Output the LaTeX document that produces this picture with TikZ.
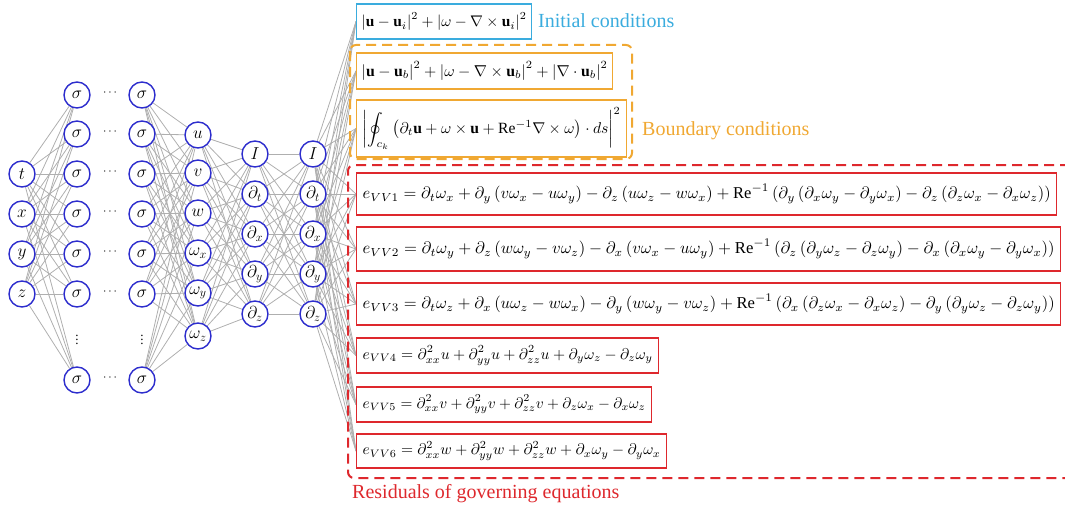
\documentclass[tikz,border=0pt]{standalone}
\usepackage{fontspec}
\setmainfont{Liberation Serif}
\usepackage{graphicx}
\usetikzlibrary{backgrounds}
\definecolor{nblue}{RGB}{45,45,205}
\definecolor{lgray}{RGB}{175,175,175}
\definecolor{ecyan}{RGB}{58,172,222}
\definecolor{eorange}{RGB}{240,168,50}
\definecolor{ered}{RGB}{222,40,45}
\newcommand{\eqfit}[2]{\resizebox{#1}{!}{$\displaystyle #2$}}
\tikzset{
  neuron/.style={circle, draw=nblue, fill=white, line width=1.4pt, minimum size=26pt, inner sep=0pt, font=\fontsize{17}{17}\selectfont},
  dotsn/.style={inner sep=0pt, font=\fontsize{13}{13}\selectfont},
  conn/.style={draw=lgray, line width=0.8pt},
  eqbox/.style={draw, fill=white, line width=1.4pt, inner sep=0pt, anchor=west},
  grpbox/.style={line width=2pt, dash pattern=on 10pt off 6pt, rounded corners=6pt},
  lab/.style={anchor=west, inner sep=0pt, font=\fontsize{20}{24}\selectfont}
}
\begin{document}
\begin{tikzpicture}[x=1pt,y=-1pt]
\useasboundingbox (0,0) rectangle (1065,511);

% input layer
\foreach \lab [count=\i] in {t,x,y,z}
  \node[neuron] (in\i) at (22,{134+40*\i}) {$\lab$};
% hidden layers
\foreach \yy [count=\i] in {95,134,174,214,254,294,380} {
  \node[neuron] (a\i) at (77,\yy) {$\sigma$};
  \node[neuron] (b\i) at (142,\yy) {$\sigma$};
  \node[dotsn] (d\i) at (110,\yy-2) {$\cdots$};
}
\node[dotsn] (va) at (77,337) {$\vdots$};
\node[dotsn] (vb) at (142,337) {$\vdots$};
% output layer
\foreach \lab/\yy [count=\i] in {u/135, v/173, w/213, \omega_x/253, \omega_y/293, \omega_z/336}
  \node[neuron] (o\i) at (198,\yy) {$\lab$};
% derivative layers
\foreach \lab/\yy [count=\i] in {I/154, \partial_t/194, \partial_x/234, \partial_y/274, \partial_z/314} {
  \node[neuron] (p\i) at (255,\yy) {$\lab$};
  \node[neuron] (q\i) at (313,\yy) {$\lab$};
}

% equation boxes
\node[eqbox, draw=ecyan, minimum width=175pt, minimum height=35pt] (ic) at (356,21.5)
  {\eqfit{165pt}{\left|\mathbf{u}-\mathbf{u}_i\right|^2+\left|\omega-\nabla\times\mathbf{u}_i\right|^2}};
\node[eqbox, draw=eorange, minimum width=256pt, minimum height=36pt] (bc1) at (356,71)
  {\eqfit{246pt}{\left|\mathbf{u}-\mathbf{u}_b\right|^2+\left|\omega-\nabla\times\mathbf{u}_b\right|^2+\left|\nabla\cdot\mathbf{u}_b\right|^2}};
\node[eqbox, draw=eorange, minimum width=270pt, minimum height=57pt] (bc2) at (356,128.5)
  {\eqfit{258pt}{\left|\oint_{c_k}\left(\partial_t\mathbf{u}+\omega\times\mathbf{u}+\mathrm{Re}^{-1}\nabla\times\omega\right)\cdot ds\right|^2}};
\node[eqbox, draw=ered, minimum width=700pt, minimum height=42pt] (r1) at (356,194)
  {\eqfit{688pt}{e_{VV1}=\partial_t\omega_x+\partial_y\left(v\omega_x-u\omega_y\right)-\partial_z\left(u\omega_z-w\omega_x\right)+\mathrm{Re}^{-1}\left(\partial_y\left(\partial_x\omega_y-\partial_y\omega_x\right)-\partial_z\left(\partial_z\omega_x-\partial_x\omega_z\right)\right)}};
\node[eqbox, draw=ered, minimum width=704pt, minimum height=44pt] (r2) at (356,249)
  {\eqfit{692pt}{e_{VV2}=\partial_t\omega_y+\partial_z\left(w\omega_y-v\omega_z\right)-\partial_x\left(v\omega_x-u\omega_y\right)+\mathrm{Re}^{-1}\left(\partial_z\left(\partial_y\omega_z-\partial_z\omega_y\right)-\partial_x\left(\partial_x\omega_y-\partial_y\omega_x\right)\right)}};
\node[eqbox, draw=ered, minimum width=704pt, minimum height=42pt] (r3) at (356,304)
  {\eqfit{692pt}{e_{VV3}=\partial_t\omega_z+\partial_x\left(u\omega_z-w\omega_x\right)-\partial_y\left(w\omega_y-v\omega_z\right)+\mathrm{Re}^{-1}\left(\partial_x\left(\partial_z\omega_x-\partial_x\omega_z\right)-\partial_y\left(\partial_y\omega_z-\partial_z\omega_y\right)\right)}};
\node[eqbox, draw=ered, minimum width=302pt, minimum height=35pt] (r4) at (356,355.5)
  {\eqfit{290pt}{e_{VV4}=\partial^2_{xx}u+\partial^2_{yy}u+\partial^2_{zz}u+\partial_y\omega_z-\partial_z\omega_y}};
\node[eqbox, draw=ered, minimum width=295pt, minimum height=35pt] (r5) at (356,404.5)
  {\eqfit{283pt}{e_{VV5}=\partial^2_{xx}v+\partial^2_{yy}v+\partial^2_{zz}v+\partial_z\omega_x-\partial_x\omega_z}};
\node[eqbox, draw=ered, minimum width=310pt, minimum height=34pt] (r6) at (356,451)
  {\eqfit{298pt}{e_{VV6}=\partial^2_{xx}w+\partial^2_{yy}w+\partial^2_{zz}w+\partial_x\omega_y-\partial_y\omega_x}};

% labels
\node[lab, text=ecyan] (lic) at (538,21) {Initial conditions};
\node[lab, text=eorange] (lbc) at (642,131) {Boundary conditions};
\node[lab, text=ered] (lres) at (352,494) {Residuals of governing equations};

% group boxes
\draw[grpbox, draw=eorange] (350,45) rectangle (632,159);
\draw[grpbox, draw=ered] (1070,165) -- (348,165) -- (348,478) -- (1070,478);

% connectors
\begin{scope}[on background layer]
\foreach \i in {1,...,4} \foreach \j in {1,...,7} \draw[conn] (in\i) -- (a\j);
\foreach \i in {1,...,7} \foreach \j in {1,...,6} \draw[conn] (b\i) -- (o\j);
\foreach \i in {1,...,6} \foreach \j in {1,...,5} \draw[conn] (o\i) -- (p\j);
\foreach \i in {1,...,5} \foreach \j in {1,...,5} \draw[conn] (p\i) -- (q\j);
\foreach \i in {1,...,5} \foreach \b in {ic,bc1,bc2,r1,r2,r3,r4,r5,r6} \draw[conn] (q\i) -- (\b.west);
\end{scope}
\end{tikzpicture}
\end{document}
